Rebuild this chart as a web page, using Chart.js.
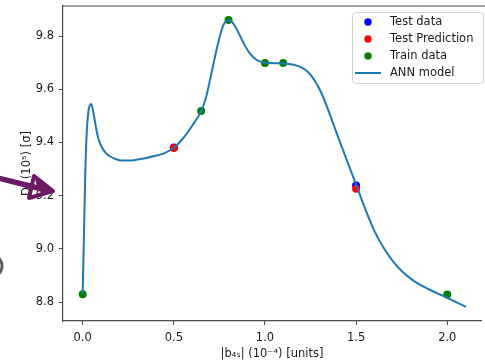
<!DOCTYPE html>
<html>
<head>
<meta charset="utf-8">
<script src="https://cdn.jsdelivr.net/npm/chart.js@4.4.1/dist/chart.umd.min.js"></script>
<style>
  html, body { margin: 0; padding: 0; background: #fff; overflow: hidden; }
  canvas { display: block; }
</style>
</head>
<body>
<canvas id="annChart" width="485" height="361"></canvas>
<script>
// |b4s| in 10^-4 units, D in 10^5 sigma
const testX = [0.5, 1.5];
const testY = [9.381, 9.238];
const predY = [9.379, 9.226];

const trainX = [0.0, 0.65, 0.8, 1.0, 1.1, 2.0];
const trainY = [8.83, 9.518, 9.86, 9.699, 9.699, 8.829];

// ANN model response, sampled along |b4s|
const modelX = [0.0, 0.004, 0.009, 0.014, 0.019, 0.025, 0.032, 0.039, 0.045, 0.052, 0.060, 0.068,
  0.076, 0.088, 0.105, 0.125, 0.145, 0.18, 0.217, 0.26, 0.30, 0.35, 0.40, 0.45, 0.50, 0.55, 0.60,
  0.65, 0.675, 0.70, 0.725, 0.75, 0.77, 0.785, 0.80, 0.815, 0.835, 0.86, 0.889, 0.915, 0.944, 0.97,
  1.0, 1.05, 1.1, 1.15, 1.2, 1.24, 1.275, 1.31, 1.345, 1.38, 1.415, 1.45, 1.505, 1.55, 1.6, 1.65,
  1.70, 1.76, 1.82, 1.87, 1.94, 2.0, 2.103];
const modelY = [8.83, 8.96, 9.12, 9.28, 9.39, 9.47, 9.52, 9.54, 9.545, 9.535, 9.508, 9.475,
  9.445, 9.41, 9.382, 9.362, 9.350, 9.338, 9.332, 9.332, 9.336, 9.342, 9.350, 9.360, 9.380, 9.415, 9.462,
  9.518, 9.565, 9.64, 9.72, 9.793, 9.838, 9.855, 9.86, 9.856, 9.838, 9.805, 9.765, 9.737, 9.716, 9.705,
  9.700, 9.698, 9.697, 9.693, 9.682, 9.662, 9.630, 9.585, 9.525, 9.46, 9.395, 9.332, 9.232, 9.15, 9.068, 9.005,
  8.955, 8.910, 8.878, 8.858, 8.835, 8.816, 8.782];

const xTicks = [0.0, 0.5, 1.0, 1.5, 2.0];
const xTickLabels = ['0.0', '0.5', '1.0', '1.5', '2.0'];
const yTicks = [8.8, 9.0, 9.2, 9.4, 9.6, 9.8];
const yTickLabels = ['8.8', '9.0', '9.2', '9.4', '9.6', '9.8'];

const xTitle = '|b\u2084\u209B| (10\u207B\u2074) [units]';
const yTitle = 'D\u209B (10\u2075) [\u03C3]';

const pts = (xs, ys) => xs.map((x, i) => ({ x: x, y: ys[i] }));

const font = { family: '"DejaVu Sans", sans-serif', size: 11.5 };
const textColor = '#1a1a1a';
const axisColor = '#4a4a4a';

// legend box in the upper right corner of the axes
const legendBox = {
  id: 'legendBox',
  afterDraw(chart) {
    const ctx = chart.ctx;
    const x = 352, y = 12, w = 131, h = 71;
    ctx.save();
    ctx.fillStyle = 'rgba(255,255,255,0.8)';
    ctx.strokeStyle = '#cfcfcf';
    ctx.lineWidth = 1;
    ctx.beginPath();
    ctx.roundRect(x + 0.5, y + 0.5, w, h, 3);
    ctx.fill();
    ctx.stroke();
    ctx.font = '11.5px "DejaVu Sans"';
    ctx.textBaseline = 'middle';
    chart.data.datasets.forEach((ds, i) => {
      const cy = y + 10 + i * 17;
      if (ds.showLine) {
        ctx.strokeStyle = ds.borderColor;
        ctx.lineWidth = 2;
        ctx.beginPath();
        ctx.moveTo(x + 3, cy);
        ctx.lineTo(x + 29, cy);
        ctx.stroke();
      } else {
        ctx.fillStyle = ds.backgroundColor;
        ctx.beginPath();
        ctx.arc(x + 16, cy, 3.7, 0, Math.PI * 2);
        ctx.fill();
      }
      ctx.fillStyle = textColor;
      ctx.fillText(ds.label, x + 38, cy + 0.5);
    });
    ctx.restore();
  }
};

// top spine, plus the purple arrow and grey mark pasted over the left edge
const extras = {
  id: 'extras',
  afterDraw(chart) {
    const ctx = chart.ctx;
    const a = chart.chartArea;
    ctx.save();
    ctx.strokeStyle = axisColor;
    ctx.lineWidth = 1.2;
    ctx.beginPath();
    ctx.moveTo(a.left, a.top);
    ctx.lineTo(chart.width, a.top);
    ctx.stroke();

    ctx.strokeStyle = '#5f5f5f';
    ctx.lineWidth = 3;
    ctx.beginPath();
    ctx.arc(-9, 266, 11, -Math.PI / 2.4, Math.PI / 2.4);
    ctx.stroke();

    ctx.strokeStyle = '#6b1a63';
    ctx.fillStyle = '#6b1a63';
    ctx.lineCap = 'round';
    ctx.lineJoin = 'round';
    ctx.lineWidth = 5.5;
    ctx.beginPath();
    ctx.moveTo(-2, 178);
    ctx.lineTo(46, 190);
    ctx.stroke();
    ctx.lineWidth = 4;
    ctx.beginPath();
    ctx.moveTo(34, 176);
    ctx.lineTo(53, 191);
    ctx.lineTo(29, 198);
    ctx.closePath();
    ctx.stroke();
    ctx.beginPath();
    ctx.moveTo(34, 176);
    ctx.lineTo(53, 191);
    ctx.lineTo(38, 189);
    ctx.closePath();
    ctx.fill();
    ctx.restore();
  }
};

new Chart(document.getElementById('annChart'), {
  type: 'scatter',
  data: {
    datasets: [
      { label: 'Test data', data: pts(testX, testY), backgroundColor: '#0000ff', borderColor: '#0000ff',
        pointRadius: 4, borderWidth: 0, showLine: false, order: 3 },
      { label: 'Test Prediction', data: pts(testX, predY), backgroundColor: '#ff0000', borderColor: '#ff0000',
        pointRadius: 4, borderWidth: 0, showLine: false, order: 2 },
      { label: 'Train data', data: pts(trainX, trainY), backgroundColor: '#008000', borderColor: '#008000',
        pointRadius: 4, borderWidth: 0, showLine: false, order: 1 },
      { label: 'ANN model', data: pts(modelX, modelY), borderColor: '#1f77b4', backgroundColor: '#1f77b4',
        borderWidth: 2, pointRadius: 0, showLine: true, cubicInterpolationMode: 'monotone', order: 0 }
    ]
  },
  options: {
    responsive: false,
    animation: false,
    layout: { padding: { top: 6, right: 0, bottom: 0, left: 0 } },
    plugins: { legend: { display: false }, tooltip: { enabled: false } },
    scales: {
      x: {
        type: 'linear',
        min: -0.108,
        max: 2.185,
        afterBuildTicks: s => { s.ticks = xTicks.map(v => ({ value: v })); },
        afterFit: s => { s.height = 40; s.paddingLeft = 0; s.paddingRight = 0; },
        ticks: { callback: (v, i) => xTickLabels[i], font: font, color: textColor, padding: 6, maxRotation: 0 },
        grid: { drawOnChartArea: false, drawTicks: true, tickLength: 4, color: axisColor, lineWidth: 1 },
        border: { display: true, color: axisColor, width: 1.2 },
        title: { display: true, text: xTitle, font: font, color: textColor, padding: { top: 0, bottom: 0 } }
      },
      y: {
        type: 'linear',
        min: 8.729,
        max: 9.913,
        afterBuildTicks: s => { s.ticks = yTicks.map(v => ({ value: v })); },
        afterFit: s => { s.width = 63; s.paddingTop = 0; s.paddingBottom = 0; },
        ticks: { callback: (v, i) => yTickLabels[i], font: font, color: textColor, padding: 5 },
        grid: { drawOnChartArea: false, drawTicks: true, tickLength: 4, color: axisColor, lineWidth: 1 },
        border: { display: true, color: axisColor, width: 1.2 },
        title: { display: true, text: yTitle, font: font, color: textColor, padding: { top: 20, bottom: 0 } }
      }
    }
  },
  plugins: [legendBox, extras]
});
</script>
</body>
</html>
